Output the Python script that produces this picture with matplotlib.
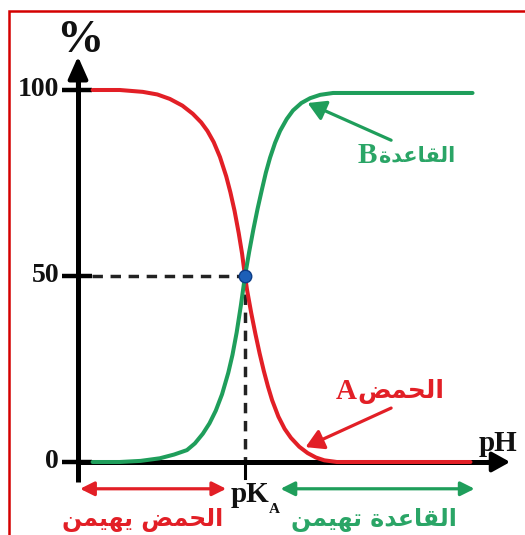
import matplotlib
matplotlib.use("Agg")
import matplotlib.pyplot as plt
from matplotlib.patches import Rectangle

# ---------------- data ----------------
PKA = 4.0
ph_acid = [0.35, 1.0, 1.55, 1.9, 2.2, 2.5, 2.75, 2.95, 3.1, 3.25, 3.4, 3.55, 3.65, 3.75, 3.85,
           3.93, 4.0, 4.05, 4.15, 4.25, 4.35, 4.45, 4.55, 4.65, 4.8, 4.95, 5.1, 5.3, 5.5, 5.7,
           5.9, 6.2, 9.4]
pct_acid = [100, 100, 99.5, 98.8, 97.6, 95.8, 93.6, 91.3, 89.0, 86.0, 82.0, 76.8, 72.5, 67.5, 61.5,
            56.0, 50.0, 46.2, 40.0, 34.4, 29.2, 24.5, 20.3, 16.6, 12.2, 8.9, 6.5, 4.1, 2.4, 1.2,
            0.45, 0, 0]
ph_base = [0.35, 1.0, 1.5, 1.96, 2.3, 2.61, 2.8, 2.99, 3.15, 3.3, 3.45, 3.6, 3.7, 3.8, 3.9,
           4.0, 4.1, 4.2, 4.3, 4.4, 4.5, 4.6, 4.72, 4.84, 5.0, 5.15, 5.35, 5.56, 5.8, 6.11, 9.45]
pct_base = [0, 0, 0.3, 1.0, 2.0, 3.2, 5.0, 7.6, 10.4, 13.8, 18.2, 24.0, 28.8, 34.8, 42.0,
            50.0, 56.5, 62.5, 68.0, 73.0, 77.8, 81.8, 85.8, 89.0, 92.2, 94.5, 96.5, 97.8, 98.7,
            99.2, 99.2]
y_ticks = [0, 50, 100]
y_tick_labels = ["0", "50", "100"]

label_acid = "الحمض"
label_base = "القاعدة"
label_acid_dom = "الحمض يهيمن"
label_base_dom = "القاعدة تهيمن"

RED = "#e21f26"
GREEN = "#1f9e5b"
GREEN_T = "#2aa566"
BLUE = "#1c5fb8"

# ---------------- minimal Arabic shaping (presentation forms) ----------------
FORMS = {
    'ا': ('\uFE8D', '\uFE8E', None, None),
    'ل': ('\uFEDD', '\uFEDE', '\uFEDF', '\uFEE0'),
    'ح': ('\uFEA1', '\uFEA2', '\uFEA3', '\uFEA4'),
    'م': ('\uFEE1', '\uFEE2', '\uFEE3', '\uFEE4'),
    'ض': ('\uFEBD', '\uFEBE', '\uFEBF', '\uFEC0'),
    'ي': ('\uFEF1', '\uFEF2', '\uFEF3', '\uFEF4'),
    'ه': ('\uFEE9', '\uFEEA', '\uFEEB', '\uFEEC'),
    'ن': ('\uFEE5', '\uFEE6', '\uFEE7', '\uFEE8'),
    'ق': ('\uFED5', '\uFED6', '\uFED7', '\uFED8'),
    'ع': ('\uFEC9', '\uFECA', '\uFECB', '\uFECC'),
    'د': ('\uFEA9', '\uFEAA', None, None),
    'ة': ('\uFE93', '\uFE94', None, None),
    'ت': ('\uFE95', '\uFE96', '\uFE97', '\uFE98'),
}


def shape(text):
    out = []
    for i, c in enumerate(text):
        if c not in FORMS:
            out.append(c)
            continue
        iso, fin, ini, med = FORMS[c]
        prev = text[i - 1] if i > 0 else None
        nxt = text[i + 1] if i + 1 < len(text) else None
        jp = prev in FORMS and FORMS[prev][2] is not None
        jn = ini is not None and nxt in FORMS
        if jp and jn:
            out.append(med)
        elif jp:
            out.append(fin)
        elif jn:
            out.append(ini)
        else:
            out.append(iso)
    return ''.join(reversed(out))


# ---------------- figure ----------------
W, H = 525, 535
fig = plt.figure(figsize=(W / 100, H / 100), dpi=100)
ax = fig.add_axes([0, 0, 1, 1])
ax.axis("off")
SX = 41.75   # px per pH unit
SY = 3.72    # px per percent
X0, Y0 = 78, 462
ax.set_xlim(-X0 / SX, (W - X0) / SX)
ax.set_ylim(-(H - Y0) / SY, Y0 / SY)

# red frame (left + top visible)
fig.patches.append(Rectangle((8.5 / W, -0.2), 1.3, 1.2 - 11 / H, transform=fig.transFigure,
                             fill=False, edgecolor="#d40000", lw=1.8, clip_on=False))

serif = "Liberation Serif"
arab = "DejaVu Sans"

# axes with arrows
ax.plot([0, 0], [-5.4, 104], color="k", lw=3.6, solid_capstyle="butt", zorder=3)
ax.annotate("", xy=(0, 109), xytext=(0, 100),
            arrowprops=dict(arrowstyle="-|>,head_length=0.45,head_width=0.2", color="k",
                            lw=3.0, mutation_scale=30, shrinkA=0, shrinkB=0), zorder=3)
ax.plot([0, 10.0], [0, 0], color="k", lw=3.6, solid_capstyle="butt", zorder=3)
ax.annotate("", xy=(10.35, 0), xytext=(9.8, 0),
            arrowprops=dict(arrowstyle="-|>,head_length=0.45,head_width=0.25", color="k",
                            lw=3.0, mutation_scale=24, shrinkA=0, shrinkB=0), zorder=3)

for yt, lab in zip(y_ticks, y_tick_labels):
    ax.plot([-0.38, 0.33], [yt, yt], color="k", lw=3.2, solid_capstyle="butt", zorder=3)
    ax.text(-0.45, yt, lab, ha="right", va="center", fontsize=20, fontweight="bold",
            family=serif, color="#111111")

ax.text(0.05, 113.3, "%", ha="center", va="center", fontsize=34, fontweight="bold",
        family=serif, color="#111111")
ax.text(10.06, 5.0, "pH", ha="center", va="center", fontsize=21, fontweight="bold",
        family=serif, color="#111111")

# dashed guides at pKa
ax.plot([0.33, PKA], [50, 50], color="#222222", lw=2.5, linestyle=(0, (3, 2.2)), zorder=2)
ax.plot([PKA, PKA], [50, 0], color="#222222", lw=2.5, linestyle=(0, (3, 2.2)), zorder=2)
ax.plot([PKA, PKA], [0, -4.2], color="k", lw=2.2, zorder=3)

# curves
ax.plot(ph_acid, pct_acid, color=RED, lw=2.9, solid_capstyle="round",
        solid_joinstyle="round", zorder=5)
ax.plot(ph_base, pct_base, color=GREEN, lw=2.9, solid_capstyle="round",
        solid_joinstyle="round", zorder=5)
ax.plot([PKA], [50], "o", ms=9, color=BLUE, mec="#0d3c86", mew=1, zorder=6)

# pKA label
ax.text(3.65, -10.8, "pK", ha="left", va="baseline", fontsize=21, fontweight="bold",
        family=serif, color="#111111")
ax.text(4.56, -13.6, "A", ha="left", va="baseline", fontsize=11, fontweight="bold",
        family=serif, color="#111111")

# domain arrows
ax.annotate("", xy=(0.05, -7.2), xytext=(3.55, -7.2),
            arrowprops=dict(arrowstyle="<|-|>,head_length=0.6,head_width=0.3", color=RED,
                            lw=2.3, mutation_scale=14, shrinkA=0, shrinkB=0), zorder=4)
ax.annotate("", xy=(4.85, -7.2), xytext=(9.5, -7.2),
            arrowprops=dict(arrowstyle="<|-|>,head_length=0.6,head_width=0.3", color=GREEN,
                            lw=2.3, mutation_scale=14, shrinkA=0, shrinkB=0), zorder=4)
ax.text(1.55, -15.6, shape(label_acid_dom), ha="center", va="center", fontsize=17,
        fontweight="bold", family=arab, color=RED)
ax.text(7.1, -15.6, shape(label_base_dom), ha="center", va="center", fontsize=17,
        fontweight="bold", family=arab, color=GREEN_T)

# curve labels with arrows
ax.text(6.92, 82.3, "B", ha="center", va="center", fontsize=21, fontweight="bold",
        family=serif, color=GREEN_T)
ax.text(7.2, 82.3, shape(label_base), ha="left", va="center", fontsize=15,
        fontweight="bold", family=arab, color=GREEN_T)
ax.annotate("", xy=(5.5, 96.5), xytext=(7.5, 86.5),
            arrowprops=dict(arrowstyle="-|>,head_length=0.6,head_width=0.35", color=GREEN,
                            lw=2.3, mutation_scale=18, shrinkA=0, shrinkB=0), zorder=4)

ax.text(6.42, 19.0, "A", ha="center", va="center", fontsize=21, fontweight="bold",
        family=serif, color=RED)
ax.text(6.7, 19.0, shape(label_acid), ha="left", va="center", fontsize=18,
        fontweight="bold", family=arab, color=RED)
ax.annotate("", xy=(5.45, 4.0), xytext=(7.5, 14.5),
            arrowprops=dict(arrowstyle="-|>,head_length=0.6,head_width=0.35", color=RED,
                            lw=2.3, mutation_scale=18, shrinkA=0, shrinkB=0), zorder=4)

fig.savefig("out.png", dpi=100)
